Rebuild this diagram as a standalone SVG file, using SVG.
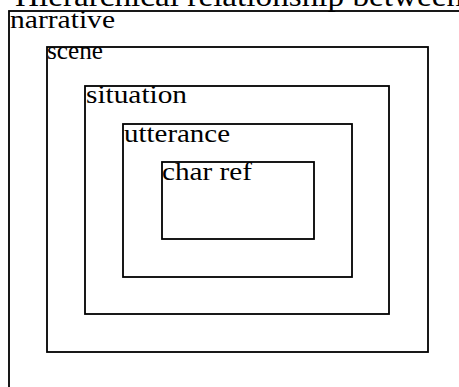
<svg xmlns="http://www.w3.org/2000/svg" width="459" height="387" viewBox="0 0 459 387">
<style>
.box{fill:none;stroke:#000;stroke-width:1.8}
.lbl{font-family:"Liberation Serif","DejaVu Serif",serif;font-size:26px;fill:#000}
.title{font-family:"Liberation Serif","DejaVu Serif",serif;font-size:30px;fill:#000}
</style>
<rect width="459" height="387" fill="#fff"/>
<text class="title" x="15" y="6" textLength="448" lengthAdjust="spacingAndGlyphs">Hierarchical relationship between</text>
<g id="narrative">
<rect class="box" x="9" y="11" width="470" height="400"/>
<text class="lbl" x="10" y="28" textLength="105" lengthAdjust="spacingAndGlyphs">narrative</text>
</g>
<g id="scene">
<rect class="box" x="47" y="47" width="381" height="305"/>
<text class="lbl" x="47" y="59" textLength="56" lengthAdjust="spacingAndGlyphs">scene</text>
</g>
<g id="situation">
<rect class="box" x="85" y="86" width="304" height="228"/>
<text class="lbl" x="86" y="103" textLength="101" lengthAdjust="spacingAndGlyphs">situation</text>
</g>
<g id="utterance">
<rect class="box" x="123" y="124" width="229" height="153"/>
<text class="lbl" x="124" y="142" textLength="106" lengthAdjust="spacingAndGlyphs">utterance</text>
</g>
<g id="charref">
<rect class="box" x="162" y="162" width="152" height="77"/>
<text class="lbl" x="162" y="180" textLength="90" lengthAdjust="spacingAndGlyphs">char ref</text>
</g>
<g id="connectors"/>
</svg>
